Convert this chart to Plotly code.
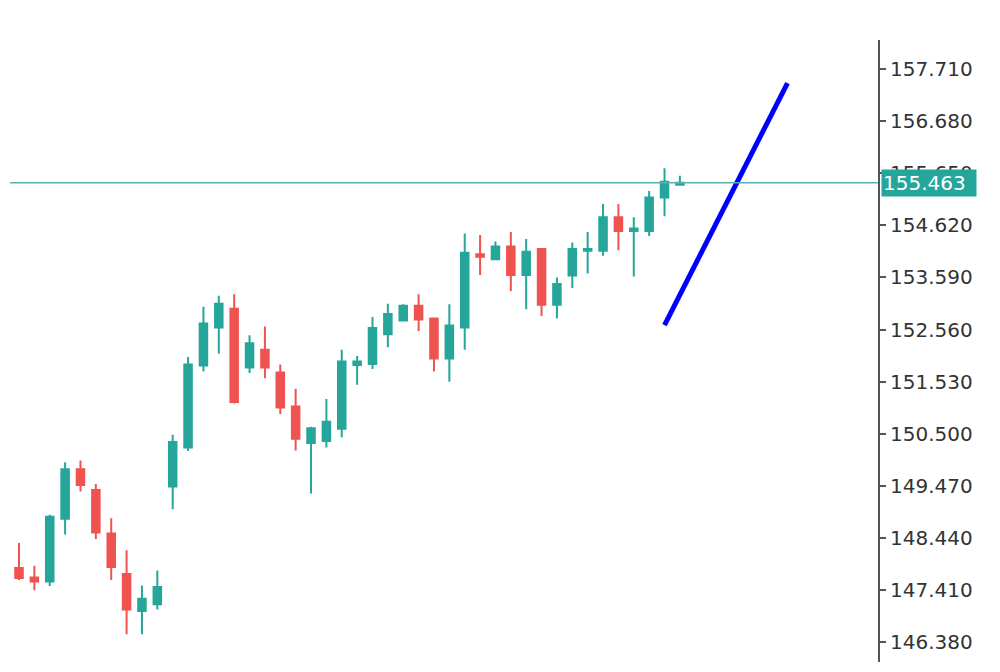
import plotly.graph_objects as go

# ---- data ----
opens  = [147.85, 147.66, 147.58, 148.82, 149.80, 149.39, 148.53, 147.73, 147.00, 147.13,
          149.46, 150.23, 151.85, 152.60, 152.97, 151.81, 152.16, 151.71, 151.04, 150.32,
          150.36, 150.60, 151.86, 151.88, 152.47, 152.74, 153.03, 152.78, 151.99, 152.60,
          154.05, 153.95, 154.20, 153.64, 154.15, 153.05, 153.63, 154.12, 154.12, 154.78,
          154.51, 154.51, 155.17, 155.42]
highs  = [148.34, 147.89, 148.90, 149.94, 149.97, 149.51, 148.83, 148.20, 147.50, 147.80,
          150.48, 152.02, 153.01, 153.23, 153.26, 152.45, 152.62, 151.87, 151.39, 150.64,
          151.19, 152.16, 152.04, 152.81, 153.07, 153.06, 153.26, 152.80, 153.06, 154.46,
          154.43, 154.30, 154.49, 154.35, 154.15, 153.59, 154.28, 154.49, 155.04, 155.04,
          154.78, 155.30, 155.75, 155.60]
lows   = [147.61, 147.41, 147.49, 148.51, 149.36, 148.42, 147.61, 146.54, 146.54, 147.03,
          149.01, 150.16, 151.73, 152.08, 151.10, 151.70, 151.60, 150.89, 150.17, 149.32,
          150.23, 150.43, 151.47, 151.78, 152.21, 152.73, 152.53, 151.73, 151.53, 152.16,
          153.64, 153.94, 153.32, 152.96, 152.83, 152.78, 153.38, 153.67, 154.02, 154.13,
          153.61, 154.41, 154.80, 155.40]
closes = [147.65, 147.58, 148.86, 149.80, 149.49, 148.55, 147.87, 147.03, 147.24, 147.47,
          150.34, 151.87, 152.68, 153.07, 151.13, 152.29, 151.81, 151.02, 150.40, 150.61,
          150.74, 151.93, 151.93, 152.59, 152.87, 153.03, 152.76, 151.99, 152.64, 154.08,
          154.00, 154.20, 153.64, 154.10, 153.05, 153.46, 154.15, 154.15, 154.78, 154.51,
          154.56, 155.17, 155.48, 155.463]

current_price = 155.463
tick_values = [146.380, 147.410, 148.440, 149.470, 150.500, 151.530, 152.560,
               153.590, 154.620, 155.650, 156.680, 157.710]
tick_labels = [f"{v:.3f}" for v in tick_values]

trend_x = [42, 50]
trend_y = [152.65, 157.43]

x_idx = list(range(len(opens)))

GREEN = "#26a69a"
RED = "#ef5350"

fig = go.Figure()
fig.add_trace(go.Candlestick(
    x=x_idx, open=opens, high=highs, low=lows, close=closes,
    increasing=dict(line=dict(color=GREEN, width=2), fillcolor=GREEN),
    decreasing=dict(line=dict(color=RED, width=2), fillcolor=RED),
    whiskerwidth=0, showlegend=False, hoverinfo="skip",
))
fig.add_trace(go.Scatter(
    x=trend_x, y=trend_y, mode="lines",
    line=dict(color="#0000ff", width=5), showlegend=False, hoverinfo="skip",
))

fig.add_shape(type="line", xref="paper", yref="y",
              x0=2 / 870, x1=1, y0=current_price, y1=current_price,
              line=dict(color="#5ab3a8", width=1.5), layer="above")

fig.add_annotation(xref="paper", yref="y", x=1, y=current_price,
                   xanchor="left", yanchor="middle", showarrow=False, xshift=3,
                   text=f"{current_price:.3f}", bgcolor=GREEN,
                   font=dict(family="DejaVu Sans", size=20, color="white"),
                   borderpad=1, width=92, align="left")

fig.update_layout(
    width=992, height=664,
    margin=dict(l=0, r=122, t=32, b=10),
    paper_bgcolor="white", plot_bgcolor="white",
    xaxis=dict(range=[-0.716, 55.89], visible=False, rangeslider=dict(visible=False),
               showgrid=False, zeroline=False),
    yaxis=dict(side="right", range=[145.99, 158.283], tickmode="array",
               tickvals=tick_values, ticktext=tick_labels,
               ticks="outside", ticklen=6, tickcolor="#555555", tickwidth=1.5,
               showline=True, linecolor="#555555", linewidth=2,
               showgrid=False, zeroline=False,
               tickfont=dict(family="DejaVu Sans", size=20, color="#333333")),
)

fig.write_html("out.html")
